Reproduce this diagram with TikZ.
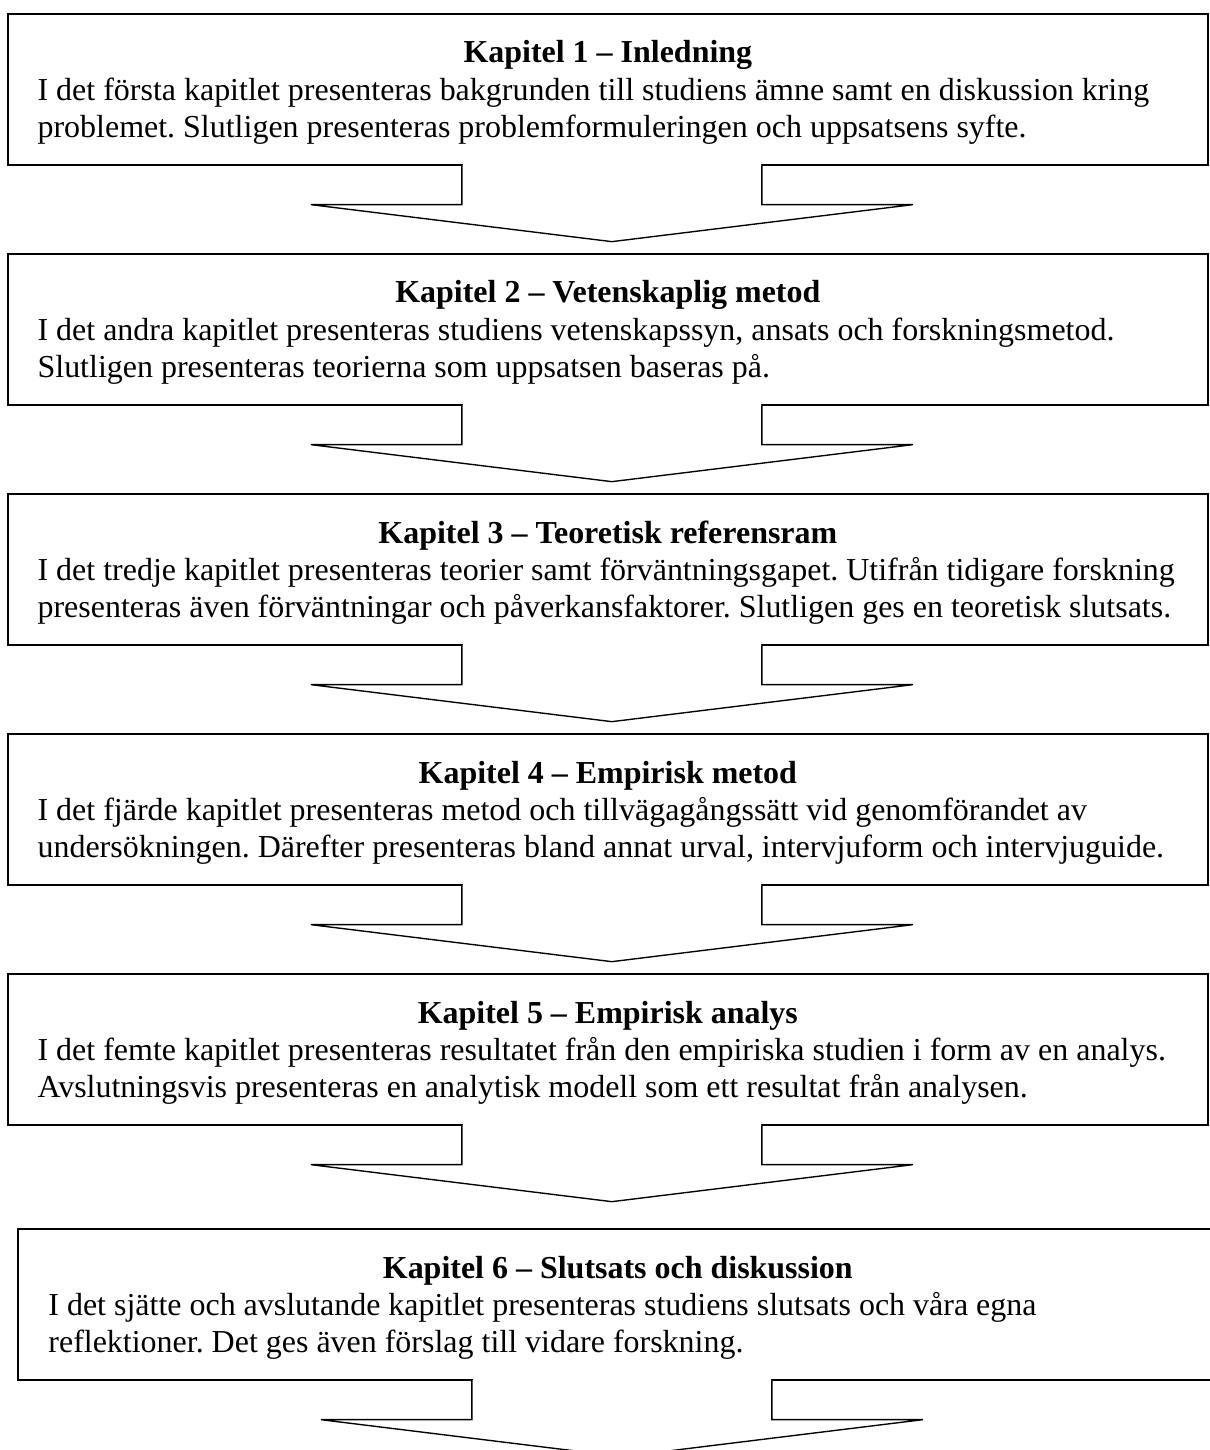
\documentclass[tikz,border=0pt]{standalone}
\usepackage{fontspec}
\setmainfont{Liberation Serif}
\usetikzlibrary{positioning}

\begin{document}
\begin{tikzpicture}[x=0.366pt, y=-0.366pt, font=\fontsize{11.7}{13.55}\selectfont\frenchspacing,
  chbox/.style={draw, line width=0.6pt, anchor=north west, minimum width=439.2pt, minimum height=55.27pt, inner sep=0pt},
  ttl/.style={anchor=base, inner sep=0pt, font=\fontsize{11.7}{13.55}\selectfont\bfseries},
  body/.style={anchor=base west, align=left, inner sep=0pt},
  blockarr/.style={draw, fill=white, line width=0.5pt, line join=miter}]
\useasboundingbox (0,0) rectangle (1209,1450);
% chapter boxes
\node[chbox] (ch1) at (7,13) {};
\node[chbox] (ch2) at (7,253) {};
\node[chbox] (ch3) at (7,493) {};
\node[chbox] (ch4) at (7,733) {};
\node[chbox] (ch5) at (7,973) {};
\node[chbox] (ch6) at (17,1228) {};
% titles and texts
\node[ttl] (t1) at ([yshift=-18.3pt]ch1.north) {Kapitel 1 – Inledning};
\node[body] (b1) at ([xshift=11pt, yshift=-45.4pt]ch1.north west) {I det första kapitlet presenteras bakgrunden till studiens ämne samt en diskussion kring\\problemet. Slutligen presenteras problemformuleringen och uppsatsens syfte.};
\node[ttl] (t2) at ([yshift=-18.3pt]ch2.north) {Kapitel 2 – Vetenskaplig metod};
\node[body] (b2) at ([xshift=11pt, yshift=-45.4pt]ch2.north west) {I det andra kapitlet presenteras studiens vetenskapssyn, ansats och forskningsmetod.\\Slutligen presenteras teorierna som uppsatsen baseras på.};
\node[ttl] (t3) at ([yshift=-18.3pt]ch3.north) {Kapitel 3 – Teoretisk referensram};
\node[body] (b3) at ([xshift=11pt, yshift=-45.4pt]ch3.north west) {I det tredje kapitlet presenteras teorier samt förväntningsgapet. Utifrån tidigare forskning\\presenteras även förväntningar och påverkansfaktorer. Slutligen ges en teoretisk slutsats.};
\node[ttl] (t4) at ([yshift=-18.3pt]ch4.north) {Kapitel 4 – Empirisk metod};
\node[body] (b4) at ([xshift=11pt, yshift=-45.4pt]ch4.north west) {I det fjärde kapitlet presenteras metod och tillvägagångssätt vid genomförandet av\\undersökningen. Därefter presenteras bland annat urval, intervjuform och intervjuguide.};
\node[ttl] (t5) at ([yshift=-18.3pt]ch5.north) {Kapitel 5 – Empirisk analys};
\node[body] (b5) at ([xshift=11pt, yshift=-45.4pt]ch5.north west) {I det femte kapitlet presenteras resultatet från den empiriska studien i form av en analys.\\Avslutningsvis presenteras en analytisk modell som ett resultat från analysen.};
\node[ttl] (t6) at ([yshift=-18.3pt]ch6.north) {Kapitel 6 – Slutsats och diskussion};
\node[body] (b6) at ([xshift=11.3pt, yshift=-45.4pt]ch6.north west) {I det sjätte och avslutande kapitlet presenteras studiens slutsats och våra egna\\reflektioner. Det ges även förslag till vidare forskning.};
% block arrows
\foreach \b in {ch1,ch2,ch3,ch4,ch5,ch6} {
  \fill[white] (\b.south) ++(-145,-3) rectangle ++(298,42);
  \draw[blockarr] (\b.south) ++(-146,0) -- ++(0,39) -- ++(-151,0) -- ++(301,37) -- ++(301,-37) -- ++(-151,0) -- ++(0,-39);
}
\end{tikzpicture}
\end{document}
